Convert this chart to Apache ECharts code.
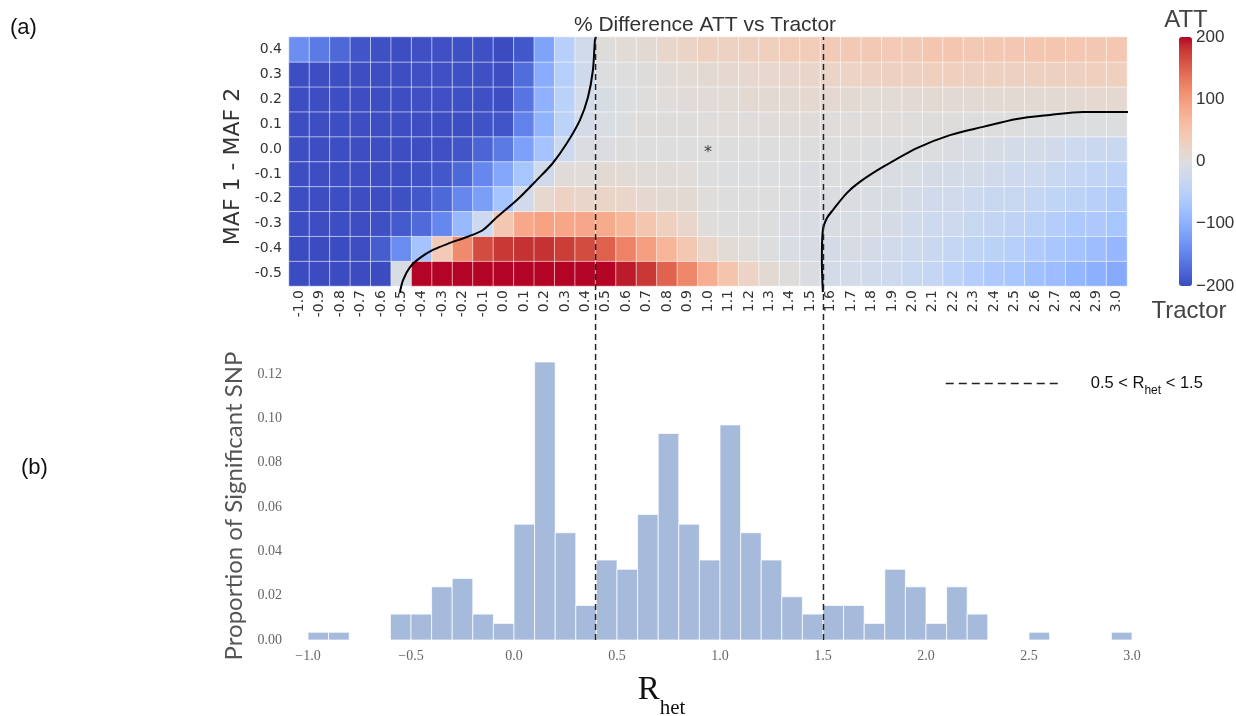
<!DOCTYPE html>
<html><head><meta charset="utf-8">
<script src="https://cdn.jsdelivr.net/npm/echarts@6/dist/echarts.min.js"></script>
<style>html,body{margin:0;padding:0;background:#fff}#c{width:1236px;height:716px}</style>
</head><body><div id="c"></div>
<script>
// ---------- DATA ----------
const rhetCats = ['-1.0','-0.9','-0.8','-0.7','-0.6','-0.5','-0.4','-0.3','-0.2','-0.1','0.0','0.1','0.2','0.3','0.4','0.5','0.6','0.7','0.8','0.9','1.0','1.1','1.2','1.3','1.4','1.5','1.6','1.7','1.8','1.9','2.0','2.1','2.2','2.3','2.4','2.5','2.6','2.7','2.8','2.9','3.0'];
const mafCats = ['-0.5','-0.4','-0.3','-0.2','-0.1','0.0','0.1','0.2','0.3','0.4']; // bottom to top

// % difference per row (MAF1-MAF2), columns follow rhetCats
const rowP04 = [-138,-158,-175,-192,-196,-198,-196,-196,-196,-196,-200,-190,-115,-50,-18,2,6,10,18,24,30,28,30,33,38,38,40,42,42,40,42,48,48,42,45,45,48,48,45,44,45];
const rowP03 = [-198,-198,-198,-198,-198,-198,-196,-196,-196,-196,-198,-170,-105,-52,-22,-3,0,2,6,8,10,12,14,16,18,20,22,25,27,30,30,32,32,30,30,30,30,30,30,32,32];
const rowP02 = [-198,-198,-198,-198,-198,-198,-196,-196,-196,-196,-198,-163,-98,-48,-15,-10,-2,1,3,5,7,8,10,10,10,12,12,10,8,8,9,10,9,9,10,10,10,10,11,12,12];
const rowP01 = [-198,-198,-198,-198,-198,-198,-198,-198,-198,-194,-192,-150,-96,-45,-12,-8,-3,2,2,2,3,3,3,4,4,5,3,3,3,3,3,2,2,0,0,0,-1,-3,-3,-3,-3];
const rowZ00 = [-198,-198,-198,-198,-198,-198,-198,-196,-192,-178,-158,-118,-73,-25,-5,-5,0,0,0,0,0,0,0,0,0,0,0,0,-2,-2,-3,-3,-5,-8,-10,-15,-15,-20,-25,-27,-27];
const rowM01 = [-198,-198,-198,-198,-198,-198,-195,-190,-175,-145,-110,-70,-20,5,3,10,8,6,6,3,0,-2,-2,-3,-3,-4,-2,-3,-3,-7,-8,-12,-15,-15,-20,-25,-25,-30,-35,-40,-45];
const rowM02 = [-198,-198,-198,-198,-198,-196,-190,-175,-145,-120,-72,-18,15,27,20,22,20,12,10,10,3,0,0,0,-3,-5,-4,-5,-8,-9,-14,-18,-20,-25,-30,-30,-35,-40,-45,-50,-60];
const rowM03 = [-198,-198,-198,-198,-196,-188,-172,-145,-88,-25,45,85,92,88,86,82,68,48,32,20,3,0,0,-3,-5,-8,-8,-8,-8,-14,-20,-25,-25,-30,-36,-42,-48,-55,-62,-65,-70];
const rowM04 = [-200,-200,-200,-198,-185,-140,-74,40,115,165,178,182,182,175,165,150,122,95,70,45,20,8,3,-3,-8,-10,-12,-10,-14,-18,-24,-28,-34,-40,-46,-54,-60,-68,-74,-82,-90];
const rowM05 = [-200,-200,-200,-200,-200,-8,200,200,200,200,200,200,200,200,200,200,192,178,148,118,80,50,25,10,2,-5,-15,-15,-18,-24,-30,-35,-45,-55,-64,-70,-78,-83,-92,-100,-108];

// contour curves [Rhet, MAF1-MAF2]
const curveLeft = [[-0.507,-0.574],[-0.492,-0.526],[-0.458,-0.474],[-0.409,-0.437],[-0.346,-0.405],[-0.262,-0.377],[-0.179,-0.353],[-0.101,-0.325],[-0.032,-0.273],[0.065,-0.205],[0.163,-0.124],[0.241,-0.056],[0.310,0.024],[0.374,0.117],[0.413,0.209],[0.437,0.317],[0.447,0.438],[0.452,0.45]];
const curveRight = [[1.562,-0.574],[1.557,-0.446],[1.562,-0.325],[1.582,-0.277],[1.611,-0.245],[1.680,-0.176],[1.743,-0.132],[1.856,-0.072],[2.022,0.004],[2.184,0.056],[2.345,0.089],[2.511,0.121],[2.673,0.137],[2.834,0.149],[3.064,0.149]];
const starPoint = [[1.0, 0.0]];
const thresholdLow = 0.45;
const thresholdHigh = 1.565;

// histogram: bin start (width 0.1) and proportion
const histBinStart = [-1.0,-0.9,-0.8,-0.7,-0.6,-0.5,-0.4,-0.3,-0.2,-0.1,0.0,0.1,0.2,0.3,0.4,0.5,0.6,0.7,0.8,0.9,1.0,1.1,1.2,1.3,1.4,1.5,1.6,1.7,1.8,1.9,2.0,2.1,2.2,2.3,2.4,2.5,2.6,2.7,2.8,2.9];
const histProp = [0.0035,0.0035,0,0,0.0117,0.0117,0.024,0.0278,0.0117,0.0075,0.0523,0.1255,0.0484,0.0156,0.0361,0.0319,0.0567,0.0932,0.0523,0.0361,0.0971,0.0484,0.0361,0.0195,0.0117,0.0156,0.0156,0.0075,0.0319,0.024,0.0075,0.024,0.0117,0,0,0.0035,0,0,0,0.0035];
const histBinWidth = 0.1;

// ---------- BUILD ----------
const rowsBottomUp = [rowM05,rowM04,rowM03,rowM02,rowM01,rowZ00,rowP01,rowP02,rowP03,rowP04];
const heatData = [];
rowsBottomUp.forEach((row, r) => row.forEach((v, c) => heatData.push([c, r, v])));
const histData = histBinStart.map((s, i) => [s, s + histBinWidth, histProp[i]]);

const coolwarm = ['#3b4cc0','#445acc','#4d68d7','#5775e1','#6282ea','#6c8ef1','#779af7','#82a5fb','#8db0fe','#98b9ff','#a3c2ff','#aec9fd','#b8d0f9','#c2d5f4','#ccd9ee','#d5dbe6','#dddddd','#e5d8d1','#ecd3c5','#f1ccb9','#f5c4ad','#f7bba0','#f7b194','#f7a687','#f49a7b','#f18d6f','#ec7f63','#e57058','#de604d','#d55042','#cb3e38','#c0282f','#b40426'];
const minus = s => String(s).replace('-', '\u2212');
const serif = 'Liberation Serif';
const sans = 'DejaVu Sans';
const arial = 'Liberation Sans';

const chart = echarts.init(document.getElementById('c'), null, {renderer: 'canvas'});
chart.setOption({
  backgroundColor: '#fff',
  animation: false,
  title: {text: '% Difference ATT vs Tractor', left: 700, top: 10, textAlign: 'center',
    textStyle: {fontFamily: arial, fontSize: 21, fontWeight: 'normal', color: '#333'}},
  legend: {
    data: ['thr'], left: 940, top: 370, itemWidth: 117, itemHeight: 12,
    itemStyle: {opacity: 0},
    lineStyle: {color: '#222', width: 1.5, type: [8, 5]},
    formatter: () => '{n|0.5 < R}{s|het}{n| < 1.5}',
    textStyle: {padding: [0,0,0,23], rich: {
      n: {fontFamily: arial, fontSize: 16.5, color: '#111', lineHeight: 22, verticalAlign: 'middle'},
      s: {fontFamily: arial, fontSize: 12, color: '#111', verticalAlign: 'top', padding: [15,0,0,0]}
    }}
  },
  visualMap: {
    type: 'continuous', min: -200, max: 200, seriesIndex: 0, calculable: false,
    left: 1179, top: 37, itemWidth: 13, itemHeight: 249, padding: 0,
    inRange: {color: coolwarm}, text: null, showLabel: false
  },
  graphic: [
    {type: 'text', left: 10, top: 17, style: {text: '(a)', fontFamily: arial, fontSize: 22, fill: '#111'}},
    {type: 'text', left: 21, top: 457, style: {text: '(b)', fontFamily: arial, fontSize: 22, fill: '#111'}},
    {type: 'text', x: 1186, y: 8, style: {text: 'ATT', fontFamily: arial, fontSize: 24, fill: '#444', align: 'center'}},
    {type: 'text', x: 1189, y: 299, style: {text: 'Tractor', fontFamily: arial, fontSize: 24, fill: '#444', align: 'center'}}
  ],
  grid: [
    {left: 289, top: 37, width: 838, height: 249, outerBoundsMode: 'none'},
    {left: 289, top: 37, width: 838, height: 249, outerBoundsMode: 'none'},
    {left: 308, top: 352, width: 824, height: 288, outerBoundsMode: 'none'},
    {left: 289, top: 37, width: 838, height: 603, outerBoundsMode: 'none'},
    {left: 1179, top: 37, width: 13, height: 249, outerBoundsMode: 'none'}
  ],
  xAxis: [
    {type: 'category', gridIndex: 0, data: rhetCats, axisLine: {show: false}, axisTick: {show: false}, splitLine: {show: false},
      axisLabel: {rotate: 90, margin: 4, fontFamily: sans, fontSize: 14, color: '#333', interval: 0}},
    {type: 'value', gridIndex: 1, min: -1.05, max: 3.05, show: false},
    {type: 'value', gridIndex: 2, min: -1, max: 3, interval: 0.5, axisLine: {show: false}, axisTick: {show: false}, splitLine: {show: false},
      axisLabel: {margin: 9, fontFamily: serif, fontSize: 14, color: '#666', formatter: v => minus(v.toFixed(1))},
      name: '{r|R}{s|het}', nameLocation: 'middle', nameGap: 21,
      nameTextStyle: {padding: [0,117,0,0], rich: {
        r: {fontFamily: serif, fontSize: 33, color: '#111', verticalAlign: 'middle', lineHeight: 40},
        s: {fontFamily: serif, fontSize: 21, color: '#111', verticalAlign: 'top', padding: [37,0,0,0]}
      }}},
    {type: 'value', gridIndex: 3, min: -1.05, max: 3.05, show: false},
    {type: 'value', gridIndex: 4, min: 0, max: 1, show: false}
  ],
  yAxis: [
    {type: 'category', gridIndex: 0, data: mafCats, axisLine: {show: false}, axisTick: {show: false}, splitLine: {show: false},
      axisLabel: {margin: 7, fontFamily: sans, fontSize: 14, color: '#333', interval: 0},
      name: 'MAF 1 - MAF 2', nameLocation: 'middle', nameGap: 38,
      nameTextStyle: {fontFamily: sans, fontSize: 22, color: '#333', padding: [0,0,0,-10]}},
    {type: 'value', gridIndex: 1, min: -0.55, max: 0.45, show: false},
    {type: 'value', gridIndex: 2, min: 0, max: 0.13, interval: 0.02, axisLine: {show: false}, axisTick: {show: false}, splitLine: {show: false},
      axisLabel: {margin: 26, fontFamily: serif, fontSize: 14, color: '#666', showMaxLabel: false, formatter: v => v.toFixed(2)},
      name: 'Proportion of Significant SNP', nameLocation: 'middle', nameGap: 52,
      nameTextStyle: {fontFamily: 'Lato', fontSize: 24, color: '#555', padding: [0,0,0,-20]}},
    {type: 'value', gridIndex: 3, min: 0, max: 1, show: false},
    {type: 'value', gridIndex: 4, min: -200, max: 200, interval: 100, position: 'right',
      axisLine: {show: false}, axisTick: {show: false}, splitLine: {show: false},
      axisLabel: {margin: 4, fontFamily: arial, fontSize: 17, color: '#333', formatter: v => minus(v)}}
  ],
  series: [
    {type: 'heatmap', xAxisIndex: 0, yAxisIndex: 0, data: heatData, silent: true,
      itemStyle: {borderColor: 'rgba(255,255,255,0.55)', borderWidth: 1}},
    {type: 'line', xAxisIndex: 1, yAxisIndex: 1, data: curveLeft, smooth: 0.3, symbol: 'none', clip: false, silent: true,
      lineStyle: {color: '#000', width: 2}, z: 5},
    {type: 'line', xAxisIndex: 1, yAxisIndex: 1, data: curveRight, smooth: 0.3, symbol: 'none', clip: false, silent: true,
      lineStyle: {color: '#000', width: 2}, z: 5},
    {type: 'scatter', xAxisIndex: 1, yAxisIndex: 1, data: starPoint, symbolSize: 1, silent: true,
      itemStyle: {color: 'rgba(0,0,0,0)'},
      label: {show: true, position: 'inside', offset: [0, 4], formatter: '*', fontSize: 16, color: '#111', fontFamily: sans}, z: 6},
    {type: 'custom', xAxisIndex: 2, yAxisIndex: 2, data: histData, silent: true,
      renderItem: (params, api) => {
        const p0 = api.coord([api.value(0), api.value(2)]);
        const p1 = api.coord([api.value(1), 0]);
        return {type: 'rect', shape: {x: p0[0], y: p0[1], width: p1[0] - p0[0], height: p1[1] - p0[1]},
          style: {fill: '#a6badb', stroke: 'rgba(255,255,255,0.75)', lineWidth: 1}};
      }},
    {type: 'line', name: 'thr', xAxisIndex: 3, yAxisIndex: 3, data: [[thresholdLow, 0], [thresholdLow, 1]], symbol: 'none', silent: true,
      itemStyle: {color: '#222'}, lineStyle: {color: '#222', width: 1.5, type: [6, 4]}, z: 8},
    {type: 'line', name: 'thr', xAxisIndex: 3, yAxisIndex: 3, data: [[thresholdHigh, 0], [thresholdHigh, 1]], symbol: 'none', silent: true,
      itemStyle: {color: '#222'}, lineStyle: {color: '#222', width: 1.5, type: [6, 4]}, z: 8},
    {type: 'line', xAxisIndex: 4, yAxisIndex: 4, data: [], silent: true}
  ]
});
</script></body></html>
